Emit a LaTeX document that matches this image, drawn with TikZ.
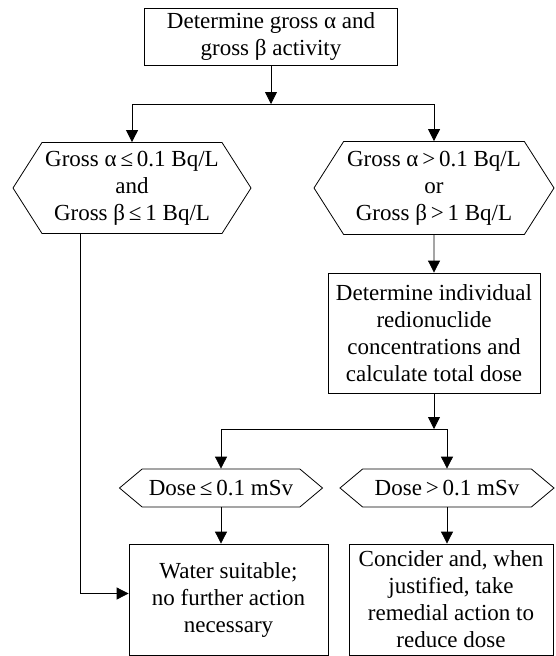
\documentclass[tikz,border=0pt]{standalone}
\usepackage{fontspec}
\setmainfont{Liberation Serif}
\usetikzlibrary{positioning,arrows.meta,shapes.symbols}

\begin{document}
\begin{tikzpicture}[x=1pt,y=-1pt,
    font=\fontsize{23pt}{27pt}\selectfont,
    box/.style={draw, line width=0.8pt, align=center, inner sep=2pt},
    hexa/.style={draw, line width=0.8pt, align=center, inner sep=1pt,
      signal, signal to=west and east, signal pointer angle=115},
    smallhexa/.style={hexa, signal pointer angle=80},
    arr/.style={line width=0.8pt, -{Triangle[length=12pt,width=12pt]}}]
  \useasboundingbox (0,0) rectangle (556,656);

  % first test
  \node [box, minimum width=253pt, minimum height=57pt] (gross) at (271,36.5)
    {Determine gross α and\\gross β activity};
  \coordinate (split top) at (271,104);

  \node [hexa, minimum width=238pt, minimum height=91pt] (low) at (132,188)
    {Gross α\,≤\,0.1 Bq/L\\and\\Gross β\,≤\,1 Bq/L};
  \node [hexa, minimum width=240pt, minimum height=93pt] (high) at (434,188)
    {Gross α\,>\,0.1 Bq/L\\or\\Gross β\,>\,1 Bq/L};

  % nuclide analysis
  \node [box, minimum width=212pt, minimum height=120pt] (nuclides) at (434,333)
    {Determine individual\\redionuclide\\concentrations and\\calculate total dose};
  \coordinate (split dose) at (434,429);

  \node [smallhexa, minimum width=203pt, minimum height=38pt] (dose low) at (221,488)
    {Dose\,≤\,0.1 mSv};
  \node [smallhexa, minimum width=214pt, minimum height=38pt] (dose high) at (447,488)
    {Dose\,>\,0.1 mSv};

  % outcomes
  \node [box, minimum width=199pt, minimum height=111pt] (suitable) at (228.5,599.5)
    {Water suitable;\\no further action\\necessary};
  \node [box, minimum width=204pt, minimum height=111pt] (action) at (451,599.5)
    {Concider and, when\\justified, take\\remedial action to\\reduce dose};

  % connectors
  \draw [arr] (gross) -- (split top);
  \draw [arr] (split top) -| (low);
  \draw [arr] (split top) -| (high);
  \draw [arr] (high) -- (nuclides);
  \draw [arr] (nuclides) -- (split dose);
  \draw [arr] (split dose) -| (dose low);
  \draw [arr] (split dose) -| (dose high);
  \draw [arr] (dose low.south) -- (dose low.south |- suitable.north);
  \draw [arr] (dose high.south) -- (dose high.south |- action.north);
  \draw [arr] ([xshift=-52pt]low.south) |- ([yshift=6pt]suitable.west);
\end{tikzpicture}
\end{document}
